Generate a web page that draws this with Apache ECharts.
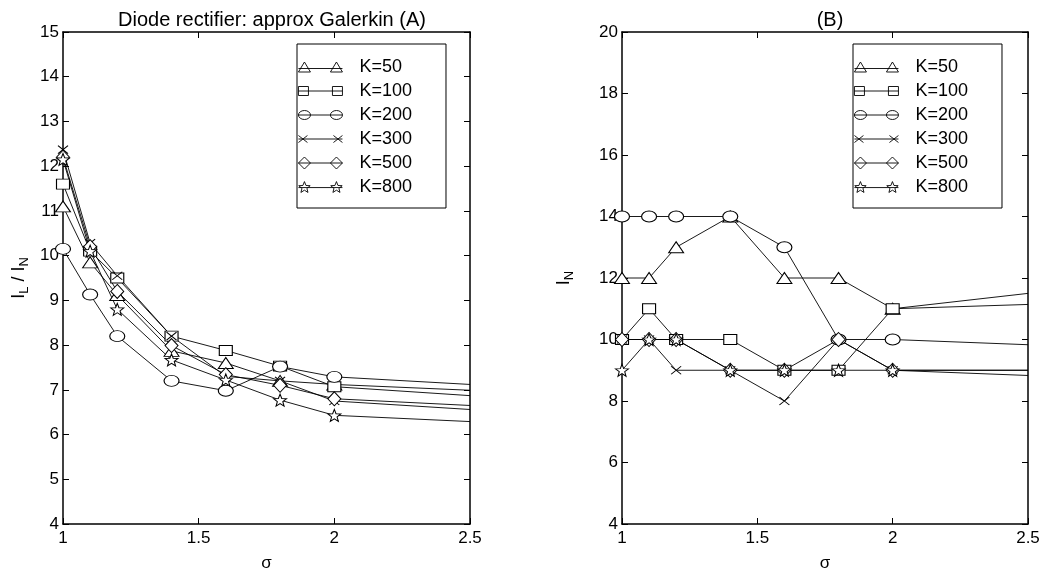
<!DOCTYPE html>
<html>
<head>
<meta charset="utf-8">
<script src="https://cdn.jsdelivr.net/npm/echarts@6/dist/echarts.min.js"></script>
<style>
html,body{margin:0;padding:0;background:#fff;}
#chart{width:1049px;height:577px;}
</style>
</head>
<body>
<div id="chart"></div>
<script>
// ---- data ----
const sigma = [1, 1.1, 1.2, 1.4, 1.6, 1.8, 2, 2.5];
const seriesNames = ['K=50', 'K=100', 'K=200', 'K=300', 'K=500', 'K=800'];

// Panel (A): I_L / I_N
const A_K50  = [11.10, 9.85, 9.12, 7.87, 7.60, 7.20, 7.12, 6.99];
const A_K100 = [11.60, 10.10, 9.50, 8.20, 7.88, 7.53, 7.07, 6.87];
const A_K200 = [10.15, 9.13, 8.20, 7.20, 6.98, 7.52, 7.29, 7.12];
const A_K300 = [12.37, 10.28, 9.55, 8.20, 7.30, 7.20, 6.75, 6.56];
const A_K500 = [12.20, 10.20, 9.20, 7.99, 7.34, 7.10, 6.80, 6.65];
const A_K800 = [12.15, 10.10, 8.80, 7.67, 7.22, 6.77, 6.43, 6.29];

// Panel (B): I_N
const B_K50  = [12, 12, 13, 14, 12, 12, 11, 11.50];
const B_K100 = [10, 11, 10, 10, 9, 9, 11, 11.14];
const B_K200 = [14, 14, 14, 14, 13, 10, 10, 9.83];
const B_K300 = [10, 10, 9, 9, 8, 10, 9, 8.83];
const B_K500 = [10, 10, 10, 9, 9, 10, 9, 9.00];
const B_K800 = [9, 10, 10, 9, 9, 9, 9, 9.00];

const titleA = 'Diode rectifier: approx Galerkin (A)';
const titleB = '(B)';

// ---- styling ----
function starPts(cx, cy, R, r) {
  const p = [];
  for (let i = 0; i < 10; i++) {
    const rr = i % 2 ? r : R;
    const a = -Math.PI / 2 + i * Math.PI / 5;
    p.push((cx + rr * Math.cos(a)).toFixed(2) + ',' + (cy + rr * Math.sin(a)).toFixed(2));
  }
  return 'M' + p.join('L') + 'Z';
}
const symbols = [
  {symbol: 'triangle', size: [15, 11]},
  {symbol: 'rect', size: [13, 10]},
  {symbol: 'circle', size: [15, 11]},
  {symbol: 'path://M0,0L10,8M10,0L0,8', size: [10, 8]},
  {symbol: 'diamond', size: [13, 14]},
  {symbol: 'path://' + starPts(10, 10, 10, 4.2), size: [13, 12]}
];
// legend icons: marker - line - marker (MATLAB style), box 44 x 12
const legendIcons = [
  'path://M0,11L6,1L12,11ZM32,11L38,1L44,11ZM0,7.5L44,7.5',
  'path://M0,2L10,2L10,11L0,11ZM34,2L44,2L44,11L34,11ZM0,6.5L44,6.5',
  'path://M0,6.5A6,4.5 0 1 1 12,6.5A6,4.5 0 1 1 0,6.5ZM32,6.5A6,4.5 0 1 1 44,6.5A6,4.5 0 1 1 32,6.5ZM0,6.5L44,6.5',
  'path://M0,2.5L9,9.5M9,2.5L0,9.5M35,2.5L44,9.5M44,2.5L35,9.5M0,6L44,6',
  'path://M0,6.5L6,0.5L12,6.5L6,12.5ZM32,6.5L38,0.5L44,6.5L38,12.5ZM0,6.5L44,6.5',
  'path://' + starPts(6, 6.5, 6, 2.6) + starPts(38, 6.5, 6, 2.6) + 'M0,6.5L44,6.5'
];
const FONT = 'Liberation Sans';

const dataA = [A_K50, A_K100, A_K200, A_K300, A_K500, A_K800];
const dataB = [B_K50, B_K100, B_K200, B_K300, B_K500, B_K800];

function build(values) {
  return values.map((v, i) => {
    const item = {value: [sigma[i], v]};
    if (i === values.length - 1) item.symbol = 'none';
    return item;
  });
}

const series = [];
[dataA, dataB].forEach((set, g) => {
  set.forEach((vals, k) => {
    series.push({
      name: seriesNames[k],
      type: 'line',
      xAxisIndex: g * 2,
      yAxisIndex: g * 2,
      data: build(vals),
      symbol: symbols[k].symbol,
      symbolSize: symbols[k].size,
      showAllSymbol: true,
      clip: true,
      lineStyle: {color: '#000', width: 0.9},
      itemStyle: {color: '#fff', borderColor: '#000', borderWidth: 1},
      emphasis: {disabled: true},
      animation: false,
      z: 3
    });
  });
});

const tickStyle = {inside: true, length: 6, lineStyle: {color: '#000', width: 1}};
const lineStyleAx = {show: true, lineStyle: {color: '#000', width: 1.5}};
const labelStyle = {color: '#000', fontFamily: FONT, fontSize: 17};

function xAxes(grid) {
  return [
    {gridIndex: grid, type: 'value', min: 1, max: 2.5, interval: 0.5, position: 'bottom',
     axisLine: lineStyleAx, axisTick: tickStyle, splitLine: {show: false},
     axisLabel: Object.assign({margin: 6}, labelStyle),
     name: 'σ', nameLocation: 'middle', nameGap: 31,
     nameTextStyle: {color: '#000', fontFamily: FONT, fontSize: 17}},
    {gridIndex: grid, type: 'value', min: 1, max: 2.5, interval: 0.5, position: 'top',
     axisLine: lineStyleAx, axisTick: tickStyle, splitLine: {show: false},
     axisLabel: {show: false}}
  ];
}
function yAxes(grid, min, max, interval, name, rich, gap) {
  return [
    {gridIndex: grid, type: 'value', min: min, max: max, interval: interval, position: 'left',
     axisLine: lineStyleAx, axisTick: tickStyle, splitLine: {show: false},
     axisLabel: Object.assign({margin: 4}, labelStyle),
     name: name, nameLocation: 'middle', nameGap: gap, nameRotate: 90,
     nameTextStyle: {color: '#000', fontFamily: FONT, fontSize: 17, rich: rich}},
    {gridIndex: grid, type: 'value', min: min, max: max, interval: interval, position: 'right',
     axisLine: lineStyleAx, axisTick: tickStyle, splitLine: {show: false},
     axisLabel: {show: false}}
  ];
}
const rich = {
  m: {fontFamily: FONT, fontSize: 18, color: '#000', lineHeight: 24, verticalAlign: 'middle'},
  s: {fontFamily: FONT, fontSize: 13, color: '#000', lineHeight: 24, verticalAlign: 'bottom'}
};

function legend(left) {
  return {
    data: seriesNames.map((n, k) => ({name: n, icon: legendIcons[k]})),
    orient: 'vertical',
    left: left, top: 44,
    itemWidth: 44, itemHeight: 13, itemGap: 6,
    padding: [14, 34, 12, 1],
    backgroundColor: '#fff',
    borderColor: '#000', borderWidth: 1,
    selectedMode: false,
    itemStyle: {color: '#fff', borderColor: '#000', borderWidth: 0.9},
    textStyle: {color: '#000', fontFamily: FONT, fontSize: 18, lineHeight: 15, padding: [0, 0, 0, 12]},
    inactiveColor: '#000'
  };
}

const chart = echarts.init(document.getElementById('chart'), null, {renderer: 'canvas'});
chart.setOption({
  backgroundColor: '#fff',
  animation: false,
  title: [
    {text: titleA, left: 267, top: 5, textAlign: 'center',
     textStyle: {color: '#000', fontFamily: FONT, fontSize: 20, fontWeight: 'normal'}},
    {text: titleB, left: 825, top: 5, textAlign: 'center',
     textStyle: {color: '#000', fontFamily: FONT, fontSize: 20, fontWeight: 'normal'}}
  ],
  grid: [
    {left: 63, top: 32, width: 407, height: 507},
    {left: 622, top: 32, width: 406, height: 507}
  ],
  legend: [legend(297), legend(853)],
  xAxis: xAxes(0).concat(xAxes(1)),
  yAxis: yAxes(0, 4, 15, 1, '{m|I}{s|L}{m| / I}{s|N}', rich, 32)
    .concat(yAxes(1, 4, 20, 2, '{m|I}{s|N}', rich, 46)),
  series: series
});
</script>
</body>
</html>
